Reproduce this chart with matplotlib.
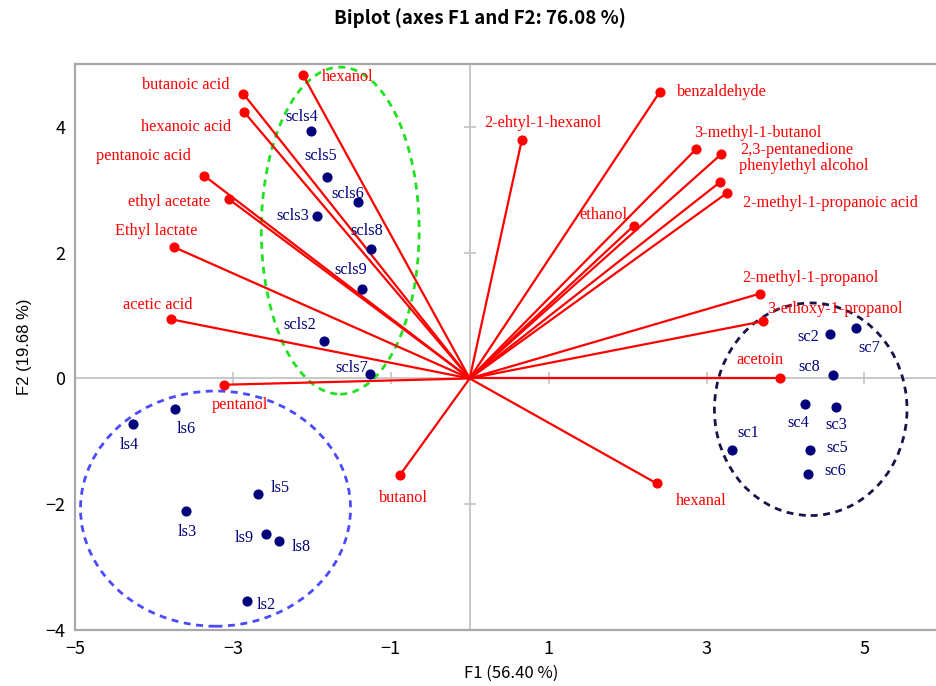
import matplotlib
matplotlib.use("Agg")
import matplotlib.pyplot as plt
from matplotlib.patches import Ellipse

# ---------------- data ----------------
var_names = ["hexanol", "butanoic acid", "hexanoic acid", "pentanoic acid", "ethyl acetate",
             "Ethyl lactate", "acetic acid", "pentanol", "butanol", "2-ehtyl-1-hexanol",
             "benzaldehyde", "3-methyl-1-butanol", "2,3-pentanedione", "phenylethyl alcohol",
             "2-methyl-1-propanoic acid", "ethanol", "2-methyl-1-propanol",
             "3-ethoxy-1-propanol", "acetoin", "hexanal"]
var_f1 = [-2.11, -2.87, -2.86, -3.36, -3.05, -3.75, -3.78, -3.11, -0.88, 0.66,
          2.41, 2.87, 3.19, 3.17, 3.26, 2.08, 3.68, 3.72, 3.93, 2.37]
var_f2 = [4.82, 4.53, 4.24, 3.22, 2.85, 2.09, 0.94, -0.10, -1.53, 3.79,
          4.56, 3.65, 3.57, 3.12, 2.95, 2.43, 1.35, 0.91, 0.00, -1.67]

obs_names = ["scls4", "scls5", "scls6", "scls3", "scls8", "scls9", "scls2", "scls7",
             "ls4", "ls6", "ls3", "ls5", "ls9", "ls8", "ls2",
             "sc2", "sc7", "sc8", "sc4", "sc3", "sc1", "sc5", "sc6"]
obs_f1 = [-2.01, -1.81, -1.41, -1.93, -1.25, -1.36, -1.85, -1.26,
          -4.26, -3.73, -3.60, -2.68, -2.58, -2.42, -2.82,
          4.56, 4.90, 4.60, 4.25, 4.64, 3.32, 4.31, 4.29]
obs_f2 = [3.93, 3.20, 2.81, 2.58, 2.06, 1.42, 0.59, 0.07,
          -0.72, -0.49, -2.11, -1.84, -2.47, -2.58, -3.54,
          0.71, 0.80, 0.06, -0.41, -0.46, -1.14, -1.14, -1.52]

# group ellipses: center F1, center F2, width, height
ell_cx = [-1.64, -3.22, 4.32]
ell_cy = [2.35, -2.07, -0.49]
ell_w = [2.00, 3.42, 2.44]
ell_h = [5.20, 3.74, 3.38]

x_ticks = [-5, -3, -1, 1, 3, 5]
y_ticks = [-4, -2, 0, 2, 4]

# ---------------- styling / label offsets (pixels: dx right, dy up) ----------------
var_off = [(45, -2), (-57, 9), (-58, -15), (-61, 20), (-60, -3), (-17, 16), (-14, 14),
           (16, -20), (3, -23), (21, 17), (62, 0), (62, 16), (75, 4), (84, 16),
           (103, -10), (-30, 11), (50, 16), (72, 12), (-20, 18), (44, -18)]
obs_off = [(-9, 14), (-6, 21), (-11, 8), (-25, 0), (-4, 18), (-12, 19), (-24, 16), (-18, 6),
           (-4, -21), (11, -20), (2, -21), (22, 6), (-22, -4), (23, -6), (19, -4),
           (-21, -3), (13, -20), (-24, 8), (-7, -19), (0, -18), (17, 17), (27, 2), (27, 3)]
ell_colors = ["#22e022", "#4a4aff", "#1e1048"]

RED = "#ff0000"
NAVY = "#00007a"
DPI = 100
fig = plt.figure(figsize=(937 / DPI, 686 / DPI), dpi=DPI)
ax = fig.add_axes([75 / 937, 1 - 630 / 686, 1 - 75 / 937, (630 - 64) / 686])
ax.set_xlim(-5, 5.92)
ax.set_ylim(-4, 5)

# zero lines
ax.axhline(0, color="#c4c4c4", lw=1.3, zorder=1)
ax.axvline(0, color="#c4c4c4", lw=1.3, zorder=1)
ax.plot([t for t in x_ticks if t != -5], [0] * 5, ls="none", marker="|", ms=8,
        mew=1.2, color="#c4c4c4", zorder=1)
ax.plot([0, 0, 0], [-2, 2, 4], ls="none", marker="_", ms=8, mew=1.2, color="#c4c4c4", zorder=1)

# ellipses
for cx, cy, w, h, c in zip(ell_cx, ell_cy, ell_w, ell_h, ell_colors):
    ax.add_patch(Ellipse((cx, cy), w, h, fill=False, ec=c, lw=2.0,
                         ls=(0, (2.5, 2.0)), zorder=2))

serif = "Liberation Serif"
# variable vectors
for n, x, y, (dx, dy) in zip(var_names, var_f1, var_f2, var_off):
    ax.plot([0, x], [0, y], color=RED, lw=1.6, zorder=3)
    ax.plot([x], [y], "o", color=RED, ms=6.3, zorder=4)
    ax.annotate(n, (x, y), xytext=(dx * 0.72, dy * 0.72), textcoords="offset points",
                ha="center", va="center", color=RED, fontsize=11.7, family=serif, zorder=5)

# observations
ax.plot(obs_f1, obs_f2, "o", color=NAVY, ms=6.3, ls="none", zorder=4)
for n, x, y, (dx, dy) in zip(obs_names, obs_f1, obs_f2, obs_off):
    ax.annotate(n, (x, y), xytext=(dx * 0.72, dy * 0.72), textcoords="offset points",
                ha="center", va="center", color=NAVY, fontsize=11.7, family=serif, zorder=5)

# axes frame
for s in ["left", "top", "bottom"]:
    ax.spines[s].set_color("#a8a8a8")
    ax.spines[s].set_linewidth(1.6)
ax.spines["right"].set_visible(False)

cjk = ["Noto Sans CJK SC", "DejaVu Sans"]
ax.set_xticks(x_ticks)
ax.set_yticks(y_ticks)
ax.set_xticklabels([("\u2212" + str(-t)) if t < 0 else str(t) for t in x_ticks],
                   family=cjk, fontsize=13)
ax.set_yticklabels([("\u2212" + str(-t)) if t < 0 else str(t) for t in y_ticks],
                   family=cjk, fontsize=13)
ax.tick_params(length=0, pad=7)

fig.text(511 / 937, 1 - 673 / 686, "F1 (56.40 %)", ha="center", va="center",
         family=cjk, fontsize=12)
fig.text(25 / 937, 1 - 347 / 686, "F2 (19.68 %)", ha="center", va="center",
         rotation=90, family="Liberation Sans", fontsize=12)
fig.text(480 / 937, 1 - 18 / 686, "Biplot (axes F1 and F2: 76.08 %)", ha="center",
         va="center", family=cjk, fontsize=13.5, fontweight="bold")

fig.savefig("out.png", dpi=DPI)
